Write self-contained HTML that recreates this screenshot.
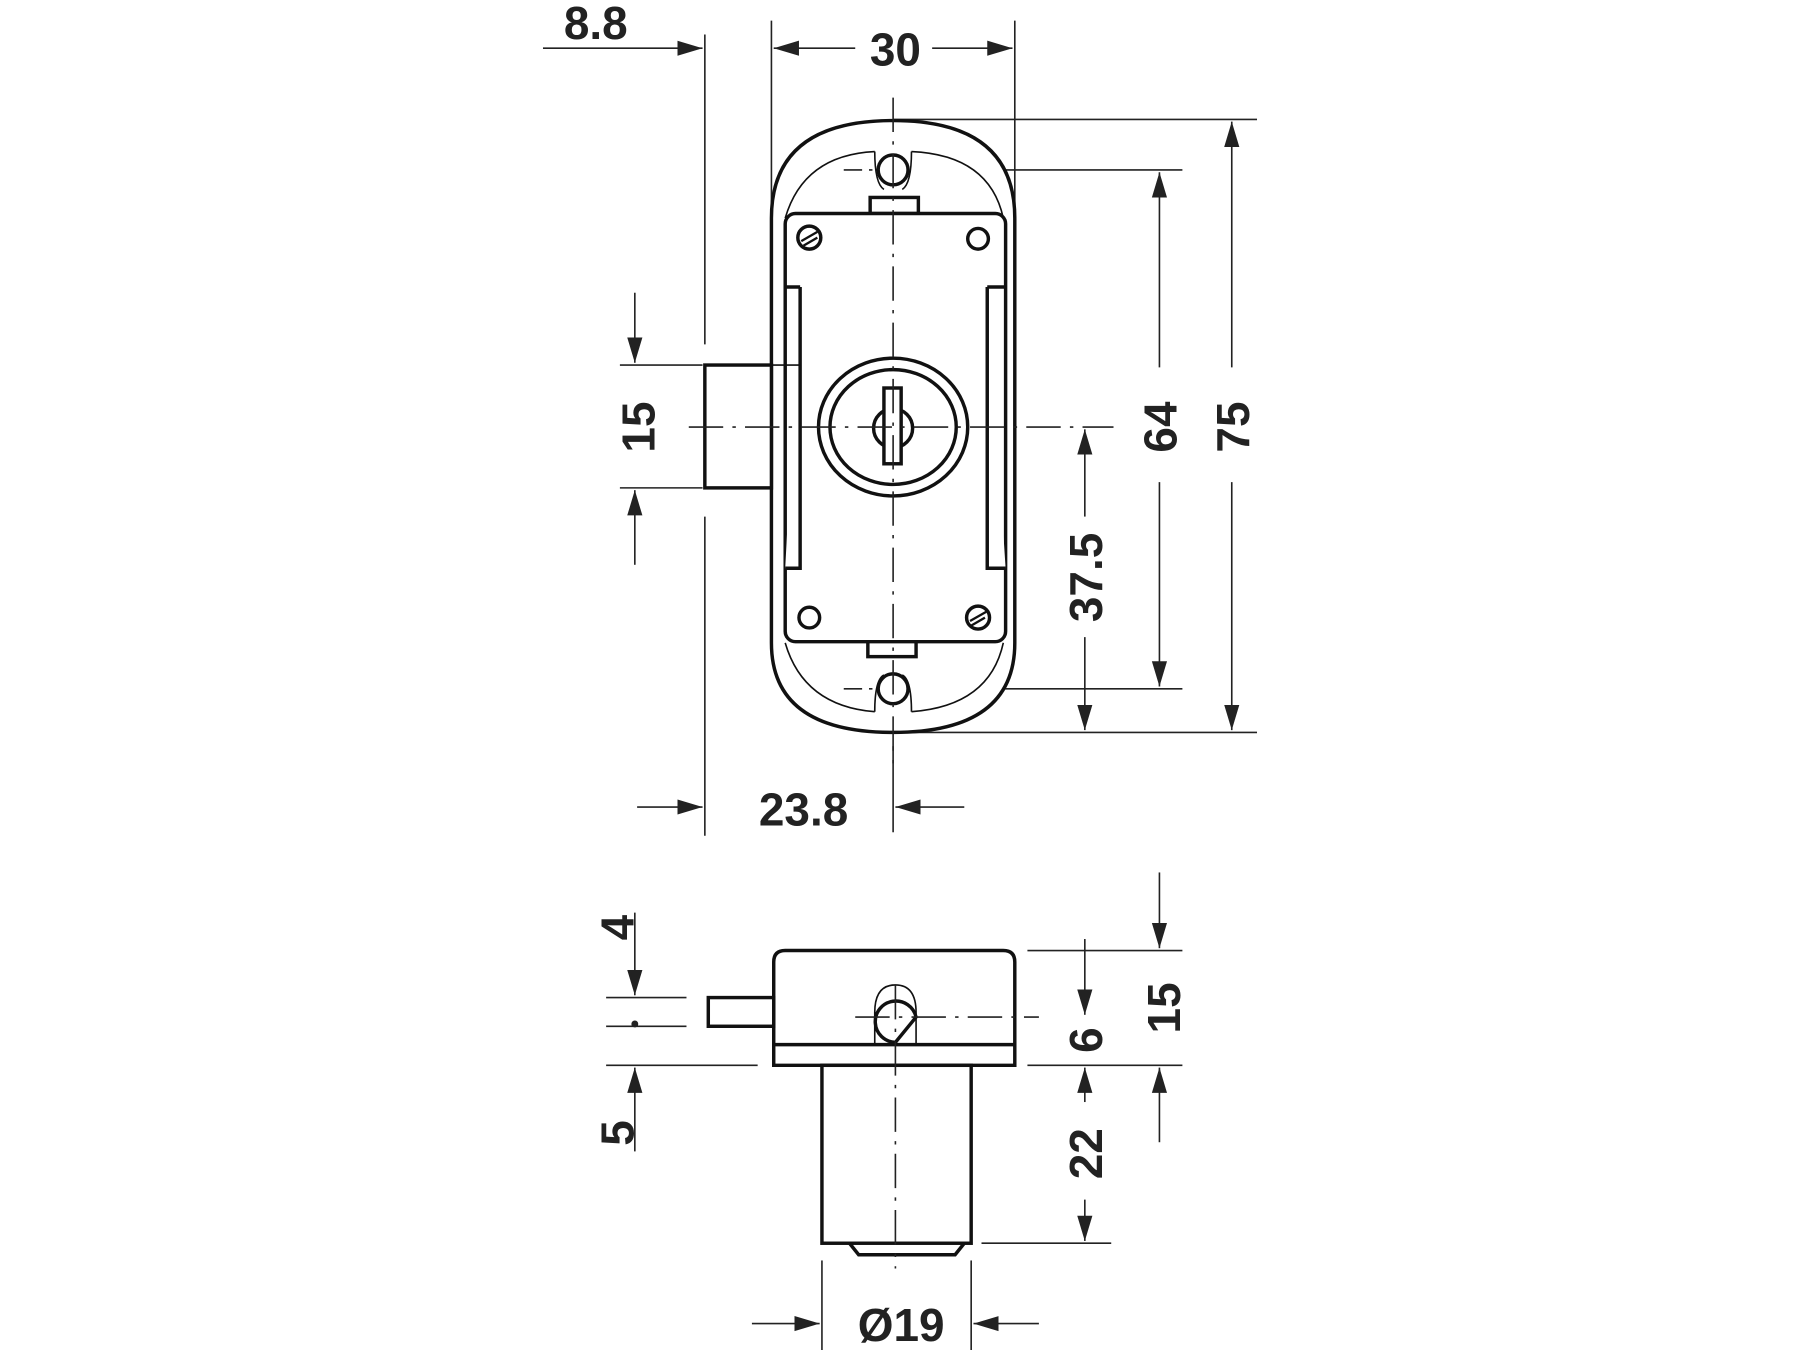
<!DOCTYPE html>
<html><head><meta charset="utf-8"><style>html,body{margin:0;padding:0;background:#fff}svg{display:block}</style></head><body>
<svg width="1800" height="1350" viewBox="0 0 1568 1176" xmlns="http://www.w3.org/2000/svg">
<defs>
<marker id="a" viewBox="0 0 10 10" refX="10" refY="5" markerWidth="22" markerHeight="22" markerUnits="userSpaceOnUse" orient="auto"><path d="M0,2 L10,5 L0,8 Z" fill="#222"/></marker>
</defs>
<g fill="none" stroke="#222" stroke-width="1.4">
<line x1="614" y1="30" x2="614" y2="300"/><line x1="614" y1="450" x2="614" y2="728"/>
<line x1="672" y1="18" x2="672" y2="180"/><line x1="884" y1="18" x2="884" y2="185"/>
<line x1="778" y1="104" x2="1095" y2="104"/><line x1="778" y1="638" x2="1095" y2="638"/>
<line x1="778" y1="148" x2="1030" y2="148"/><line x1="778" y1="600" x2="1030" y2="600"/>
<line x1="540" y1="318" x2="612" y2="318"/><line x1="540" y1="425" x2="612" y2="425"/>
<line x1="778" y1="650" x2="778" y2="725"/>
<line x1="473" y1="42" x2="612" y2="42" marker-end="url(#a)"/>
<line x1="745" y1="42" x2="674" y2="42" marker-end="url(#a)"/>
<line x1="812" y1="42" x2="882" y2="42" marker-end="url(#a)"/>
<line x1="1073" y1="320" x2="1073" y2="106" marker-end="url(#a)"/>
<line x1="1073" y1="420" x2="1073" y2="636" marker-end="url(#a)"/>
<line x1="1010" y1="320" x2="1010" y2="150" marker-end="url(#a)"/>
<line x1="1010" y1="420" x2="1010" y2="598" marker-end="url(#a)"/>
<line x1="945" y1="450" x2="945" y2="374" marker-end="url(#a)"/>
<line x1="945" y1="555" x2="945" y2="636" marker-end="url(#a)"/>
<line x1="553" y1="255" x2="553" y2="316" marker-end="url(#a)"/>
<line x1="553" y1="492" x2="553" y2="427" marker-end="url(#a)"/>
<line x1="555" y1="703" x2="612" y2="703" marker-end="url(#a)"/>
<line x1="840" y1="703" x2="780" y2="703" marker-end="url(#a)"/>
</g>
<g fill="none" stroke="#111" stroke-width="3">
<path d="M672,190 Q672,105 778,105 Q884,105 884,190 L884,560 Q884,638 778,638 Q672,638 672,560 Z" fill="#fff"/>
<path d="M684,190 Q700,135 762,132 M794,132 Q862,135 874,190 M684,560 Q700,615 762,620 M794,620 Q862,615 874,560" stroke-width="1.4"/>
<path d="M762,132 Q762,160 770,165 M794,132 Q794,160 786,165 M762,620 Q762,592 770,588 M794,620 Q794,592 786,588" stroke-width="1.4"/>
<rect x="758" y="172" width="42" height="14" fill="#fff"/>
<rect x="756" y="558" width="42" height="14" fill="#fff"/>
<rect x="684" y="186" width="192" height="373" rx="9" fill="#fff"/>
<path d="M697,250 V495 H684 M697,250 H684 M860,250 V495 H876 M860,250 H876" fill="#fff"/>
<circle cx="778" cy="148" r="13"/><circle cx="778" cy="600" r="13"/>
<circle cx="705" cy="207" r="10"/><circle cx="852" cy="208" r="9"/>
<circle cx="705" cy="538" r="9"/><circle cx="852" cy="538" r="10"/>
<path d="M698,210 L712,202 M700,214 L712,207 M845,541 L859,533 M846,545 L858,538" stroke-width="2"/>
<ellipse cx="778" cy="372" rx="65" ry="60"/>
<ellipse cx="778" cy="372" rx="55" ry="50"/>
<circle cx="778" cy="373" r="17"/>
<rect x="770" y="338" width="15" height="66" fill="#fff"/>
<rect x="614" y="318" width="58" height="107" fill="#fff"/>
<line x1="614" y1="318" x2="697" y2="318" stroke-width="1.4"/>
</g>
<g fill="none" stroke="#222" stroke-width="1.4">
<line x1="778" y1="85" x2="778" y2="665" stroke-dasharray="30,8,3,8"/>
<line x1="600" y1="372" x2="970" y2="372" stroke-dasharray="30,8,3,8"/>
<line x1="735" y1="148" x2="760" y2="148" stroke-dasharray="16,6"/>
<line x1="735" y1="600" x2="760" y2="600" stroke-dasharray="16,6"/>
<line x1="1010" y1="760" x2="1010" y2="826" marker-end="url(#a)"/>
<line x1="1010" y1="995" x2="1010" y2="930" marker-end="url(#a)"/>
<line x1="895" y1="828" x2="1030" y2="828"/><line x1="895" y1="928" x2="1030" y2="928"/>
<line x1="945" y1="818" x2="945" y2="884" marker-end="url(#a)"/>
<line x1="945" y1="960" x2="945" y2="930" marker-end="url(#a)"/>
<line x1="945" y1="1045" x2="945" y2="1081" marker-end="url(#a)"/>
<line x1="855" y1="1083" x2="968" y2="1083"/>
<line x1="553" y1="795" x2="553" y2="867" marker-end="url(#a)"/>
<line x1="553" y1="1003" x2="553" y2="930" marker-end="url(#a)"/>
<line x1="528" y1="869" x2="598" y2="869"/><line x1="528" y1="894" x2="598" y2="894"/>
<line x1="528" y1="928" x2="660" y2="928"/>
<line x1="716" y1="1098" x2="716" y2="1176"/><line x1="846" y1="1098" x2="846" y2="1176"/>
<line x1="655" y1="1153" x2="714" y2="1153" marker-end="url(#a)"/>
<line x1="905" y1="1153" x2="848" y2="1153" marker-end="url(#a)"/>
</g>
<circle cx="553" cy="892" r="3" fill="#222"/>
<g fill="none" stroke="#111" stroke-width="3">
<path d="M674,928 V838 Q674,828 684,828 H874 Q884,828 884,838 V928 Z" fill="#fff"/>
<line x1="674" y1="910" x2="884" y2="910"/>
<rect x="617" y="869" width="57" height="25" fill="#fff"/>
<rect x="716" y="928" width="130" height="155" fill="#fff"/>
<path d="M740,1083 L748,1093 H832 L840,1083"/>
<path d="M762,910 V882 Q762,858 780,858 Q798,858 798,882 V910" stroke-width="1.4"/>
<path d="M780,908 A18,18 0 1 1 798,886 Z"/>
</g>
<g fill="none" stroke="#222" stroke-width="1.4">
<line x1="780" y1="858" x2="780" y2="1105" stroke-dasharray="30,8,3,8"/>
<line x1="745" y1="886" x2="905" y2="886" stroke-dasharray="30,8,3,8"/>
</g>
<g font-family="Liberation Sans, sans-serif" font-weight="bold" font-size="40" fill="#222" text-anchor="middle">
<text x="519" y="34">8.8</text>
<text x="780" y="57">30</text>
<text x="700" y="719">23.8</text>
<text x="785" y="1168">Ø19</text>
<text transform="translate(1088,372) rotate(-90)">75</text>
<text transform="translate(1025,372) rotate(-90)">64</text>
<text transform="translate(960,503) rotate(-90)">37.5</text>
<text transform="translate(570,372) rotate(-90)">15</text>
<text transform="translate(1028,878) rotate(-90)">15</text>
<text transform="translate(960,906) rotate(-90)">6</text>
<text transform="translate(960,1005) rotate(-90)">22</text>
<text transform="translate(552,808) rotate(-90)">4</text>
<text transform="translate(552,987) rotate(-90)">5</text>
</g>
</svg>
</body></html>
